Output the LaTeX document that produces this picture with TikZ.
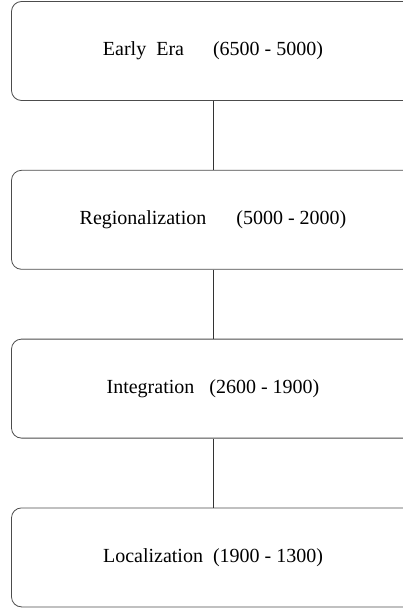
\documentclass[tikz,border=0pt]{standalone}
\usepackage{fontspec}
\setmainfont{Liberation Serif}
\usetikzlibrary{positioning}

\begin{document}
\begin{tikzpicture}[x=1pt, y=1pt,
    era/.style={draw=black!70, line width=0.8pt, rounded corners=10pt,
        minimum width=403pt, minimum height=99pt, inner sep=0pt,
        font=\fontsize{20}{24}\selectfont},
    link/.style={draw=black!80, line width=0.8pt}]
    \useasboundingbox (0,0) rectangle (403,-608);

    \node[era] (early) at (213,-51) {Early\ \ Era\hspace{29pt}(6500 - 5000)};
    \node[era, below=69pt of early] (region) {Regionalization\hspace{30pt}(5000 - 2000)};
    \node[era, below=69pt of region] (integ) {Integration\hspace{15pt}(2600 - 1900)};
    \node[era, below=69pt of integ] (local) {Localization\hspace{10pt}(1900 - 1300)};

    \draw[link] (early) -- (region);
    \draw[link] (region) -- (integ);
    \draw[link] (integ) -- (local);
\end{tikzpicture}
\end{document}
